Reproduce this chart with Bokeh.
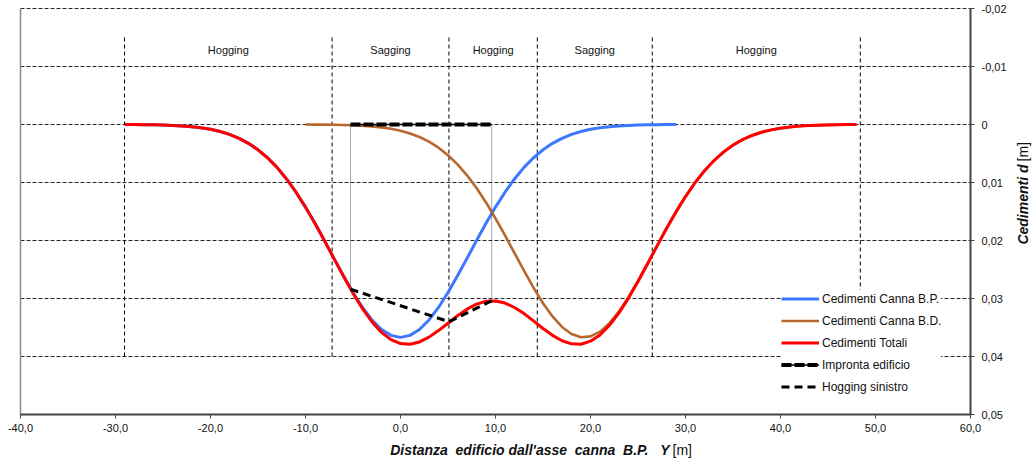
from bokeh.plotting import figure
from bokeh.models import (Range1d, FixedTicker, CustomJSTickFormatter, Legend,
                          LegendItem, Label, LinearAxis)
from bokeh.embed import file_html
from bokeh.resources import INLINE
import math

FONT = "Liberation Sans"

# ---------------- data ----------------
x_ticks = [-40, -30, -20, -10, 0, 10, 20, 30, 40, 50, 60]
y_ticks = [-0.02, -0.01, 0.0, 0.01, 0.02, 0.03, 0.04, 0.05]

# Cedimenti Canna B.P. (blue)
blue_x = list(range(-29, 30))
blue_y = [0.00001, 0.00002, 0.00004, 0.00006, 0.00010, 0.00016, 0.00025, 0.00037,
          0.00057, 0.00083, 0.00121, 0.00170, 0.00238, 0.00325, 0.00436, 0.00573,
          0.00740, 0.00939, 0.01167, 0.01424, 0.01704, 0.02002, 0.02308, 0.02609,
          0.02896, 0.03154, 0.03370, 0.03534, 0.03636, 0.03670,
          0.03636, 0.03534, 0.03370, 0.03154, 0.02896, 0.02609, 0.02308, 0.02002,
          0.01704, 0.01424, 0.01167, 0.00939, 0.00740, 0.00573, 0.00436, 0.00325,
          0.00238, 0.00170, 0.00121, 0.00083, 0.00057, 0.00037, 0.00025, 0.00016,
          0.00010, 0.00006, 0.00004, 0.00002, 0.00001]

# Cedimenti Canna B.D. (brown)
brown_x = list(range(-10, 49))
brown_y = [0.00001, 0.00002, 0.00003, 0.00005, 0.00009, 0.00013, 0.00021, 0.00033,
           0.00050, 0.00074, 0.00107, 0.00154, 0.00215, 0.00296, 0.00399, 0.00530,
           0.00688, 0.00876, 0.01095, 0.01344, 0.01618, 0.01911, 0.02216, 0.02520,
           0.02813, 0.03081, 0.03310, 0.03491, 0.03612, 0.03667, 0.03653, 0.03571,
           0.03425, 0.03223, 0.02977, 0.02698, 0.02399, 0.02093, 0.01792, 0.01506,
           0.01242, 0.01004, 0.00797, 0.00621, 0.00475, 0.00355, 0.00261, 0.00189,
           0.00134, 0.00093, 0.00063, 0.00042, 0.00028, 0.00018, 0.00011, 0.00007,
           0.00004, 0.00002, 0.00001]

# Cedimenti Totali (red)
red_x = list(range(-29, 49))
red_y = [0.00001, 0.00002, 0.00004, 0.00006, 0.00010, 0.00016, 0.00025, 0.00037,
         0.00057, 0.00083, 0.00121, 0.00170, 0.00238, 0.00325, 0.00436, 0.00573,
         0.00740, 0.00939, 0.01167, 0.01425, 0.01706, 0.02005, 0.02313, 0.02618,
         0.02909, 0.03175, 0.03403, 0.03584, 0.03710, 0.03777, 0.03790, 0.03749,
         0.03666, 0.03553, 0.03426, 0.03297, 0.03184, 0.03097, 0.03048, 0.03042,
         0.03078, 0.03155, 0.03260, 0.03386, 0.03517, 0.03635, 0.03729, 0.03782,
         0.03788, 0.03736, 0.03628, 0.03462, 0.03248, 0.02993, 0.02708, 0.02405,
         0.02097, 0.01794, 0.01507, 0.01242, 0.01004, 0.00797, 0.00621, 0.00475,
         0.00355, 0.00261, 0.00189, 0.00134, 0.00093, 0.00063, 0.00042, 0.00028,
         0.00018, 0.00011, 0.00007, 0.00004, 0.00002, 0.00001]

# Impronta edificio (building footprint)
building_x = [-5.26, 9.6]
building_y = [0.0, 0.0]
building_drop = [0.0284, 0.0304]

# Hogging sinistro
hog_x = [-5.26, 5.1, 9.6]
hog_y = [0.0284, 0.0340, 0.0304]

# Hogging / Sagging zone boundaries and labels
zone_bounds = [-29.05, -7.2, 5.1, 14.4, 26.5, 48.4]
zone_names = ["Hogging", "Sagging", "Hogging", "Sagging", "Hogging"]
zone_top = -0.015
zone_bottom = 0.04
zone_label_y = -0.0129

NB = "\u00a0"
x_title = "Distanza" + NB * 2 + "edificio dall'asse" + NB * 2 + "canna" + NB * 2 + "B.P." + NB * 3 + "Y"
y_title = "Cedimenti" + NB + "d"
unit = "[m]"

X_MIN, X_MAX = -40, 60
Y_MIN, Y_MAX = -0.02, 0.05

# ---------------- layout helpers (pixel mapping of the plot box) ----------------
W, H = 1033, 466
PX_L, PX_R, PX_T, PX_B = 20, 970, 8, 414
sx = (X_MAX - X_MIN) / (PX_R - PX_L)
sy = (Y_MAX - Y_MIN) / (PX_B - PX_T)
def dx(px):
    return X_MIN + (px - PX_L) * sx
def dy(py):
    return Y_MIN + (py - PX_T) * sy

p = figure(width=W, height=H, output_backend="svg", toolbar_location=None,
           title=None, x_axis_location=None, y_axis_location=None,
           x_range=Range1d(dx(0), dx(W)), y_range=Range1d(dy(H), dy(0)),
           min_border=0, min_border_left=0, min_border_right=0,
           min_border_top=0, min_border_bottom=0)
p.outline_line_color = None
p.background_fill_color = "white"
p.border_fill_color = "white"
for g in p.grid:
    g.visible = False

# horizontal grid lines (limited to the plot box)
p.segment(x0=[X_MIN] * len(y_ticks), y0=y_ticks, x1=[X_MAX] * len(y_ticks), y1=y_ticks,
          line_color="#000000", line_dash="4 2", line_width=1, line_alpha=0.85)

# left border
p.segment(x0=[X_MIN], y0=[Y_MIN], x1=[X_MIN], y1=[Y_MAX], line_color="#8a8a8a", line_width=1.5)

# axes
xaxis = LinearAxis(fixed_location=Y_MAX, bounds=(X_MIN, X_MAX),
                   ticker=FixedTicker(ticks=x_ticks),
                   formatter=CustomJSTickFormatter(code="return tick.toFixed(1).replace('.', ',');"))
yaxis = LinearAxis(fixed_location=X_MAX, bounds=(Y_MIN, Y_MAX),
                   ticker=FixedTicker(ticks=y_ticks),
                   formatter=CustomJSTickFormatter(
                       code="return Math.abs(tick) < 1e-9 ? '0' : tick.toFixed(2).replace('.', ',');"))
for ax in (xaxis, yaxis):
    ax.axis_line_color = "#444444"
    ax.axis_line_width = 2
    ax.major_tick_line_color = "#444444"
    ax.major_tick_line_width = 1
    ax.major_tick_in = 0
    ax.major_tick_out = 4
    ax.minor_tick_line_color = None
    ax.major_label_text_font = FONT
    ax.major_label_text_font_size = "11px"
    ax.major_label_text_color = "#111111"
xaxis.major_label_standoff = 5
yaxis.major_label_standoff = 7
p.add_layout(xaxis, "below")
p.add_layout(yaxis, "right")

# zone boundaries
p.segment(x0=zone_bounds, y0=[zone_top] * len(zone_bounds),
          x1=zone_bounds, y1=[zone_bottom] * len(zone_bounds),
          line_color="black", line_width=1, line_dash="4 3")
for i, name in enumerate(zone_names):
    xc = (zone_bounds[i] + zone_bounds[i + 1]) / 2
    p.add_layout(Label(x=xc, y=zone_label_y, text=name, text_align="center",
                       text_baseline="middle", text_font=FONT, text_font_size="11px",
                       text_color="#111111"))

# curves
r_blue = p.line(blue_x, blue_y, line_color="#3C78FF", line_width=3)
r_brown = p.line(brown_x, brown_y, line_color="#B8682E", line_width=2.6)
r_red = p.line(red_x, red_y, line_color="#FF0000", line_width=3)

# building vertical dotted lines
p.segment(x0=building_x, y0=building_y, x1=building_x, y1=building_drop,
          line_color="#555555", line_width=1, line_dash="1 1")

r_imp1 = p.line(building_x, building_y, line_color="black", line_width=1.5)
r_imp2 = p.line(building_x, building_y, line_color="black", line_width=4, line_dash="10 3")
r_hog = p.line(hog_x, hog_y, line_color="black", line_width=3, line_dash="8 5")

legend = Legend(items=[
    LegendItem(label="Cedimenti Canna B.P.", renderers=[r_blue]),
    LegendItem(label="Cedimenti Canna B.D.", renderers=[r_brown]),
    LegendItem(label="Cedimenti Totali", renderers=[r_red]),
    LegendItem(label="Impronta edificio", renderers=[r_imp1, r_imp2]),
    LegendItem(label="Hogging sinistro", renderers=[r_hog]),
], location=(781, H - 395))
legend.label_text_font = FONT
legend.label_text_font_size = "12px"
legend.label_text_color = "#111111"
legend.glyph_width = 38
legend.glyph_height = 17
legend.label_height = 17
legend.label_standoff = 3
legend.spacing = 5
legend.padding = 4
legend.margin = 0
legend.border_line_color = None
legend.background_fill_color = "white"
legend.background_fill_alpha = 1.0
p.add_layout(legend)

# axis titles
TFS = "14px"
p.add_layout(Label(x=dx(669), y=dy(449), text=x_title, text_align="right", text_baseline="middle",
                   text_font=FONT, text_font_size=TFS, text_font_style="bold italic",
                   text_color="#111111"))
p.add_layout(Label(x=dx(672), y=dy(449), text=unit, text_align="left", text_baseline="middle",
                   text_font=FONT, text_font_size=TFS, text_color="#111111"))

p.add_layout(Label(x=dx(1022), y=dy(164), text=y_title, text_align="right", text_baseline="middle",
                   angle=math.pi / 2, text_font=FONT, text_font_size=TFS,
                   text_font_style="bold italic", text_color="#111111"))
p.add_layout(Label(x=dx(1022), y=dy(161), text=unit, text_align="left", text_baseline="middle",
                   angle=math.pi / 2, text_font=FONT, text_font_size=TFS,
                   text_color="#111111"))

open("out.html", "w").write(file_html(p, INLINE))
